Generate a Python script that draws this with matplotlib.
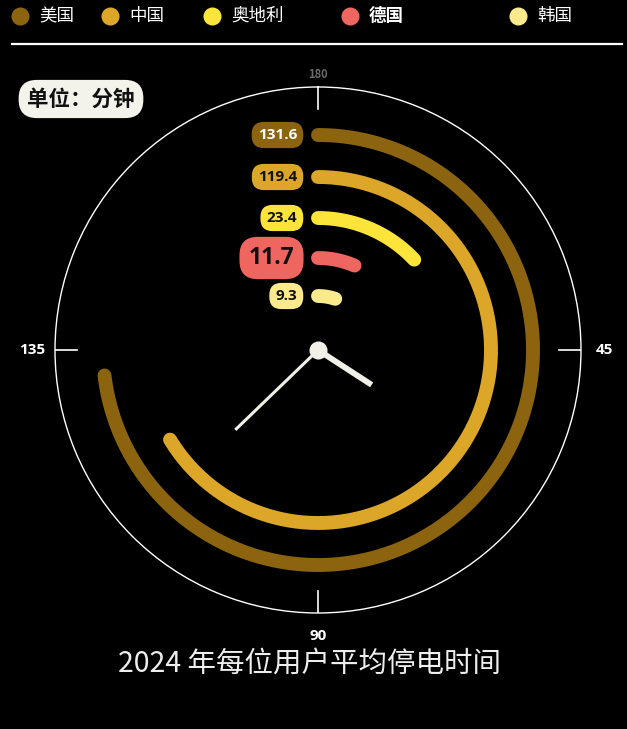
# Average outage minutes per customer, 2024 - clock style radial bars

import numpy as np
import matplotlib.pyplot as plt

plt.rcParams["font.family"] = ["Noto Sans CJK SC", "DejaVu Sans"]

countries = ["美国", "中国", "奥地利", "德国", "韩国"]
minutes = [131.6, 119.4, 23.4, 11.7, 9.3]
colors = ["#8C6410", "#DCA628", "#FDE43A", "#EF6560", "#FBEA8C"]
label_text_colors = ["white", "#111111", "#111111", "#111111", "#111111"]
highlight = "德国"
full_circle = 180
tick_values = [45, 90, 135]
title = "2024 年每位用户平均停电时间"
unit_text = "单位：分钟"

W, H = 627, 729
fig = plt.figure(figsize=(W / 100, H / 100), dpi=100, facecolor="black")

# overlay axes in pixel coords for legend / decorations
ov = fig.add_axes([0, 0, 1, 1])
ov.set_xlim(0, W)
ov.set_ylim(H, 0)
ov.axis("off")
ov.patch.set_alpha(0)

leg_x = [20, 110, 212, 350, 518]
for x, name, c in zip(leg_x, countries, colors):
    ov.plot(x, 16, "o", ms=13, color=c, mec="none")
    ov.text(x + 19, 16, name, color="white", fontsize=12.6, va="center", ha="left",
            fontweight="bold" if name == highlight else "normal")
ov.plot([12, 622], [44, 44], color="white", lw=1.6)

ov.text(81, 99, unit_text, fontsize=15.5, fontweight="bold", color="#111111",
        ha="center", va="center",
        bbox=dict(boxstyle="round,pad=0.4,rounding_size=0.85", fc="#F3F3EC", ec="none"))

ov.text(310, 664, title, fontsize=20.5, color="#EEEEEE", ha="center", va="center")

# polar clock
cx, cy, R = 318, 350, 263
ax = fig.add_axes([(cx - R) / W, (H - cy - R) / H, 2 * R / W, 2 * R / H],
                  projection="polar")
ax.set_facecolor("none")
ax.set_theta_zero_location("N")
ax.set_theta_direction(-1)
ax.grid(False)
ax.set_xticks([])
ax.set_yticks([])
ax.spines["polar"].set_color("white")
ax.spines["polar"].set_linewidth(1.0)

def to_theta(v):
    return np.asarray(v) / full_circle * 2 * np.pi

# tick marks and labels
for tv in tick_values:
    th = to_theta(tv)
    ax.plot([th, th], [R - 22, R], color="white", lw=1.2)
    ax.text(th, R + 23, str(tv), color="white", fontsize=11, fontweight="bold",
            ha="center", va="center", family=["Open Sans", "DejaVu Sans"])
ax.plot([0, 0], [R - 22, R], color="white", lw=1.2)
ax.text(0, R + 12, "180", color="#999999", fontsize=8, fontweight="bold", alpha=0.7,
        ha="center", va="center")

# bars
radii = [215, 173, 132, 92, 54]
for v, r, c, tc, name in zip(minutes, radii, colors, label_text_colors, countries):
    th = np.linspace(0, to_theta(v), 200)
    ax.plot(th, np.full_like(th, r), color=c, lw=10, solid_capstyle="round")
    big = name == highlight
    fs = 16.5 if big else 11
    ax.annotate(f"{v}", xy=(0, r), xytext=(-17 if big else -15, 0),
                textcoords="offset points", ha="right", va="center",
                fontsize=fs, fontweight="bold", color=tc,
                family=["Open Sans", "DejaVu Sans"],
                bbox=dict(boxstyle="round,pad=0.4,rounding_size=0.8", fc=c, ec="none"))

# clock hands
ax.plot([0, np.deg2rad(226)], [0, 115], color="#F0F0E6", lw=2.2, solid_capstyle="butt")
ax.plot([0, np.deg2rad(123)], [0, 64], color="#F0F0E6", lw=4.2, solid_capstyle="butt")
ax.plot(0, 0, "o", ms=13, color="#F0F0E6", mec="none")
ax.set_ylim(0, R)

fig.savefig("out.png", dpi=100, facecolor="black")
